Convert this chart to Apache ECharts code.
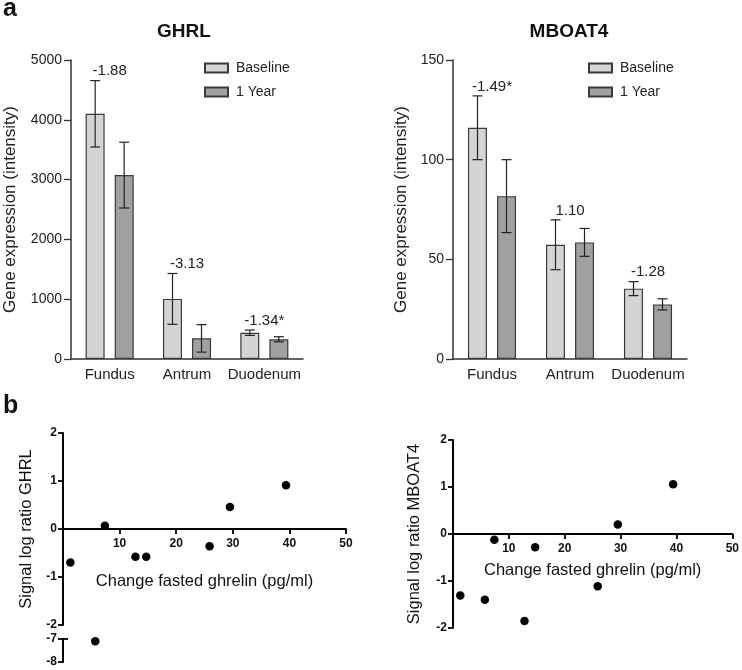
<!DOCTYPE html>
<html>
<head>
<meta charset="utf-8">
<script src="https://cdn.jsdelivr.net/npm/echarts@6/dist/echarts.min.js"></script>
<style>
html,body{margin:0;padding:0;background:#fff;}
#chart{width:742px;height:670px;}
</style>
</head>
<body>
<div id="chart"></div>
<script>
// ---- data ----
const barCategories = ['Fundus', 'Antrum', 'Duodenum'];
const seriesNames = ['Baseline', '1 Year'];

const ghrlBaseline = [4100, 1005, 440];
const ghrlBaselineErr = [555, 425, 45];
const ghrl1Year = [3075, 345, 330];
const ghrl1YearErr = [550, 230, 42];
const ghrlFoldChange = ['-1.88', '-3.13', '-1.34*'];
const ghrlTicks = [0, 1000, 2000, 3000, 4000, 5000];

const mboatBaseline = [116, 57.3, 35.3];
const mboatBaselineErr = [16, 12.5, 3.5];
const mboat1Year = [81.7, 58.5, 27.4];
const mboat1YearErr = [18.3, 7, 2.8];
const mboatFoldChange = ['-1.49*', '1.10', '-1.28'];
const mboatTicks = [0, 50, 100, 150];

const ghrelinChange = [1.3, 5.7, 7.4, 12.8, 14.7, 25.9, 29.5, 39.4];
const ghrlLogRatio = [-0.70, -7.1, 0.07, -0.58, -0.58, -0.36, 0.46, 0.91];
const mboatLogRatio = [-1.31, -1.40, -0.12, -1.85, -0.28, -1.11, 0.20, 1.06];
const scatterXTicks = [0, 10, 20, 30, 40, 50];
const scatterYTicks = [-2, -1, 0, 1, 2];
const brokenYTicks = [-8, -7];

// ---- styling ----
const FONT = "'Liberation Sans', Arial, sans-serif";
const C_BASE = '#d4d4d4';
const C_YEAR = '#a0a0a0';
const C_EDGE = '#3a3a3a';
const BAR_W = 19;
const BAR_OFF = 14.5;

const grids = [
  { left: 71, top: 60, width: 232, height: 299 },
  { left: 453, top: 60, width: 234, height: 299 },
  { left: 63, top: 433, width: 283, height: 192 },
  { left: 63, top: 639, width: 283, height: 23 },
  { left: 453, top: 440, width: 280, height: 188 }
];

function errRenderer(offset) {
  return function (params, api) {
    const c = api.value(0);
    const lo = api.coord([c, api.value(1)]);
    const hi = api.coord([c, api.value(2)]);
    const x = lo[0] + offset;
    const w = 5;
    const st = { stroke: '#222', lineWidth: 1.2 };
    return {
      type: 'group',
      children: [
        { type: 'line', shape: { x1: x, y1: lo[1], x2: x, y2: hi[1] }, style: st },
        { type: 'line', shape: { x1: x - w, y1: hi[1], x2: x + w, y2: hi[1] }, style: st },
        { type: 'line', shape: { x1: x - w, y1: lo[1], x2: x + w, y2: lo[1] }, style: st }
      ]
    };
  };
}
function labelRenderer(texts) {
  return function (params, api) {
    const p = api.coord([api.value(0), api.value(1)]);
    return {
      type: 'text', x: p[0], y: p[1] - 2,
      style: { text: texts[params.dataIndex], align: 'center', verticalAlign: 'bottom',
               font: '15px ' + FONT, fill: '#222' }
    };
  };
}
function errData(vals, errs) {
  return vals.map((v, i) => [i, v - errs[i], v + errs[i]]);
}
function labelData(a, ae, b, be) {
  return a.map((v, i) => [i, Math.max(v + ae[i], b[i] + be[i])]);
}

function barXAxis(gi) {
  return {
    gridIndex: gi, type: 'category', data: barCategories,
    axisLine: { lineStyle: { color: '#333', width: 1.5 } },
    axisTick: { alignWithLabel: true, length: 6, lineStyle: { color: '#333', width: 1.3 } },
    axisLabel: { interval: 0, fontFamily: FONT, fontSize: 15, color: '#222', margin: 8 }
  };
}
function barYAxis(gi, ticks, gap) {
  return {
    gridIndex: gi, type: 'value', min: ticks[0], max: ticks[ticks.length - 1],
    interval: ticks[1] - ticks[0],
    name: 'Gene expression (intensity)', nameLocation: 'middle', nameGap: gap,
    nameTextStyle: { fontFamily: FONT, fontSize: 17, color: '#222' },
    axisLine: { show: true, lineStyle: { color: '#333', width: 1.5 } },
    axisTick: { show: true, length: 7, lineStyle: { color: '#333', width: 1.3 } },
    axisLabel: { fontFamily: FONT, fontSize: 14, color: '#222', margin: 9, formatter: v => String(v) },
    splitLine: { show: false }
  };
}
// x axis drawn at y = 0 of the grid's y range
function scatterXAxis(gi, gap, showAxis, yTicks) {
  const ymin = yTicks[0], ymax = yTicks[yTicks.length - 1];
  const zeroOffset = -grids[gi].height * (0 - ymin) / (ymax - ymin);
  return {
    gridIndex: gi, type: 'value', show: showAxis, position: 'bottom',
    offset: showAxis ? zeroOffset : 0,
    min: scatterXTicks[0], max: scatterXTicks[scatterXTicks.length - 1],
    interval: scatterXTicks[1] - scatterXTicks[0],
    name: showAxis ? 'Change fasted ghrelin (pg/ml)' : '', nameLocation: 'middle', nameGap: gap,
    nameTextStyle: { fontFamily: FONT, fontSize: 16.5, color: '#111' },
    axisLine: { onZero: false, lineStyle: { color: '#000', width: 2 } },
    axisTick: { show: true, length: 5, lineStyle: { color: '#000', width: 1.8 } },
    axisLabel: { fontFamily: FONT, fontSize: 12, fontWeight: 'bold', color: '#111', margin: 9,
                 formatter: v => (v === 0 ? '' : String(v)) },
    splitLine: { show: false }
  };
}
function scatterYAxis(gi, ticks, name, gap) {
  return {
    gridIndex: gi, type: 'value', position: 'left', min: ticks[0], max: ticks[ticks.length - 1],
    interval: ticks[1] - ticks[0],
    name: name, nameLocation: 'middle', nameGap: gap,
    nameTextStyle: { fontFamily: FONT, fontSize: 16.5, color: '#111' },
    axisLine: { show: true, onZero: false, lineStyle: { color: '#000', width: 2 } },
    axisTick: { show: true, length: 5, lineStyle: { color: '#000', width: 1.8 } },
    axisLabel: { fontFamily: FONT, fontSize: 12, fontWeight: 'bold', color: '#111', margin: 6 },
    splitLine: { show: false }
  };
}
// inner cap at the top of the broken (lower) axis segment
const breakCapAxis = {
  gridIndex: 3, type: 'value', position: 'left', offset: 0,
  min: brokenYTicks[0], max: brokenYTicks[brokenYTicks.length - 1],
  axisLine: { show: false, onZero: false },
  axisLabel: { show: false },
  splitLine: { show: false },
  axisTick: { show: true, inside: true, length: 5, customValues: [brokenYTicks[brokenYTicks.length - 1]],
              lineStyle: { color: '#000', width: 1.8 } }
};

const upperGhrl = ghrelinChange.map((x, i) => [x, ghrlLogRatio[i]]).filter(p => p[1] >= scatterYTicks[0]);
const lowerGhrl = ghrelinChange.map((x, i) => [x, ghrlLogRatio[i]]).filter(p => p[1] < scatterYTicks[0]);
const mboatPts = ghrelinChange.map((x, i) => [x, mboatLogRatio[i]]);

const legendBase = {
  data: seriesNames, orient: 'vertical', top: 56, itemWidth: 23, itemHeight: 9, itemGap: 10, icon: 'rect',
  textStyle: { fontFamily: FONT, fontSize: 14, color: '#222', padding: [0, 0, 0, 3] }, selectedMode: false
};
const dot = { symbolSize: 8.5, itemStyle: { color: '#000', opacity: 1 } };

const chart = echarts.init(document.getElementById('chart'), null, { renderer: 'canvas' });
const option = {
  animation: false,
  backgroundColor: '#fff',
  textStyle: { fontFamily: FONT },
  grid: grids,
  xAxis: [
    barXAxis(0), barXAxis(1),
    scatterXAxis(2, 44, true, scatterYTicks), scatterXAxis(3, 0, false, brokenYTicks),
    scatterXAxis(4, 28, true, scatterYTicks)
  ],
  yAxis: [
    barYAxis(0, ghrlTicks, 52), barYAxis(1, mboatTicks, 43),
    scatterYAxis(2, scatterYTicks, 'Signal log ratio GHRL', 28),
    scatterYAxis(3, brokenYTicks, '', 0),
    scatterYAxis(4, scatterYTicks, 'Signal log ratio MBOAT4', 30),
    breakCapAxis
  ],
  legend: [
    Object.assign({}, legendBase, { left: 199 }),
    Object.assign({}, legendBase, { left: 583 })
  ],
  graphic: [
    { type: 'text', x: 3, y: -3, style: { text: 'a', font: 'bold 25px ' + FONT, fill: '#111' } },
    { type: 'text', x: 3, y: 394, style: { text: 'b', font: 'bold 25px ' + FONT, fill: '#111' } },
    { type: 'text', x: 184, y: 32, style: { text: 'GHRL', font: 'bold 19px ' + FONT, fill: '#111', align: 'center', verticalAlign: 'middle' } },
    { type: 'text', x: 569, y: 32, style: { text: 'MBOAT4', font: 'bold 19px ' + FONT, fill: '#111', align: 'center', verticalAlign: 'middle' } }
  ],
  series: [
    { name: seriesNames[0], type: 'bar', xAxisIndex: 0, yAxisIndex: 0, data: ghrlBaseline,
      barWidth: BAR_W, barGap: '53%', itemStyle: { color: C_BASE, borderColor: C_EDGE, borderWidth: 1.2 } },
    { name: seriesNames[1], type: 'bar', xAxisIndex: 0, yAxisIndex: 0, data: ghrl1Year,
      barWidth: BAR_W, barGap: '53%', itemStyle: { color: C_YEAR, borderColor: C_EDGE, borderWidth: 1.2 } },
    { type: 'custom', xAxisIndex: 0, yAxisIndex: 0, renderItem: errRenderer(-BAR_OFF),
      data: errData(ghrlBaseline, ghrlBaselineErr), encode: { x: 0, y: [1, 2] }, z: 5 },
    { type: 'custom', xAxisIndex: 0, yAxisIndex: 0, renderItem: errRenderer(BAR_OFF),
      data: errData(ghrl1Year, ghrl1YearErr), encode: { x: 0, y: [1, 2] }, z: 5 },
    { type: 'custom', xAxisIndex: 0, yAxisIndex: 0, renderItem: labelRenderer(ghrlFoldChange),
      data: labelData(ghrlBaseline, ghrlBaselineErr, ghrl1Year, ghrl1YearErr), encode: { x: 0, y: 1 }, z: 6 },

    { name: seriesNames[0], type: 'bar', xAxisIndex: 1, yAxisIndex: 1, data: mboatBaseline,
      barWidth: BAR_W, barGap: '53%', itemStyle: { color: C_BASE, borderColor: C_EDGE, borderWidth: 1.2 } },
    { name: seriesNames[1], type: 'bar', xAxisIndex: 1, yAxisIndex: 1, data: mboat1Year,
      barWidth: BAR_W, barGap: '53%', itemStyle: { color: C_YEAR, borderColor: C_EDGE, borderWidth: 1.2 } },
    { type: 'custom', xAxisIndex: 1, yAxisIndex: 1, renderItem: errRenderer(-BAR_OFF),
      data: errData(mboatBaseline, mboatBaselineErr), encode: { x: 0, y: [1, 2] }, z: 5 },
    { type: 'custom', xAxisIndex: 1, yAxisIndex: 1, renderItem: errRenderer(BAR_OFF),
      data: errData(mboat1Year, mboat1YearErr), encode: { x: 0, y: [1, 2] }, z: 5 },
    { type: 'custom', xAxisIndex: 1, yAxisIndex: 1, renderItem: labelRenderer(mboatFoldChange),
      data: labelData(mboatBaseline, mboatBaselineErr, mboat1Year, mboat1YearErr), encode: { x: 0, y: 1 }, z: 6 },

    Object.assign({ type: 'scatter', xAxisIndex: 2, yAxisIndex: 2, data: upperGhrl }, dot),
    Object.assign({ type: 'scatter', xAxisIndex: 3, yAxisIndex: 3, data: lowerGhrl }, dot),
    Object.assign({ type: 'scatter', xAxisIndex: 4, yAxisIndex: 4, data: mboatPts }, dot)
  ]
};
chart.setOption(option);
</script>
</body>
</html>
